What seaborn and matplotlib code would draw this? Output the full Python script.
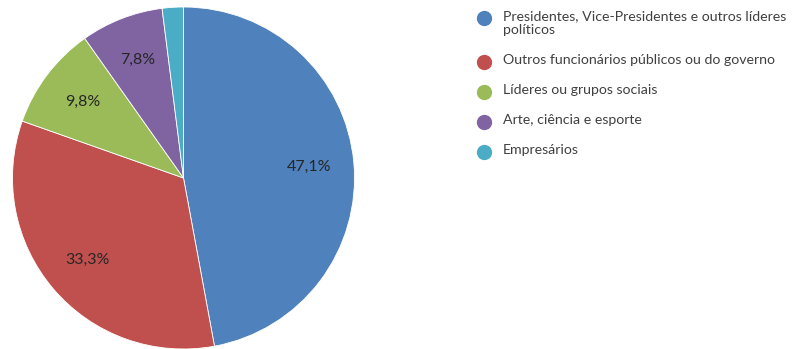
import matplotlib
matplotlib.use("Agg")
import matplotlib.pyplot as plt
from matplotlib.lines import Line2D
import seaborn as sns

categories = [
    "Presidentes, Vice-Presidentes e outros líderes\npolíticos",
    "Outros funcionários públicos ou do governo",
    "Líderes ou grupos sociais",
    "Arte, ciência e esporte",
    "Empresários",
]
values = [47.1, 33.3, 9.8, 7.8, 2.0]
colors = ["#4F81BD", "#C0504D", "#9BBB59", "#8064A2", "#4BACC6"]

sns.set_style("white")
plt.rcParams["font.family"] = ["Lato", "DejaVu Sans"]
palette = sns.color_palette(colors)

W, H = 799, 349
fig = plt.figure(figsize=(W / 100, H / 100), dpi=100)
cx, cy, r = 183.5, 178.0, 171.0
ax = fig.add_axes([(cx - r) / W, (H - cy - r) / H, 2 * r / W, 2 * r / H])

def fmt(p):
    return ("%.1f%%" % p).replace(".", ",") if p > 5 else ""

wedges, texts, autotexts = ax.pie(
    values, colors=palette, startangle=90, counterclock=False,
    autopct=fmt, pctdistance=0.74, radius=1,
    wedgeprops=dict(edgecolor="white", linewidth=0.6),
    textprops=dict(fontsize=11.5, color="#262626"),
)
ax.set_xlim(-1, 1)
ax.set_ylim(-1, 1)
ax.axis("off")

# legend drawn manually (marker aligned with the first text line)
y = 18.0
line_h, row_gap = 14.0, 30.0
for lab, c in zip(categories, palette):
    fig.add_artist(Line2D([484 / W], [1 - y / H], transform=fig.transFigure,
                          marker="o", markersize=10, linestyle="",
                          markerfacecolor=c, markeredgecolor=c))
    fig.text(503 / W, 1 - (y - 7.5) / H, lab, ha="left", va="top",
             fontsize=10.2, color="#404040", linespacing=1.15)
    y += line_h * lab.count("\n") + row_gap

fig.savefig("out.png", dpi=100)
